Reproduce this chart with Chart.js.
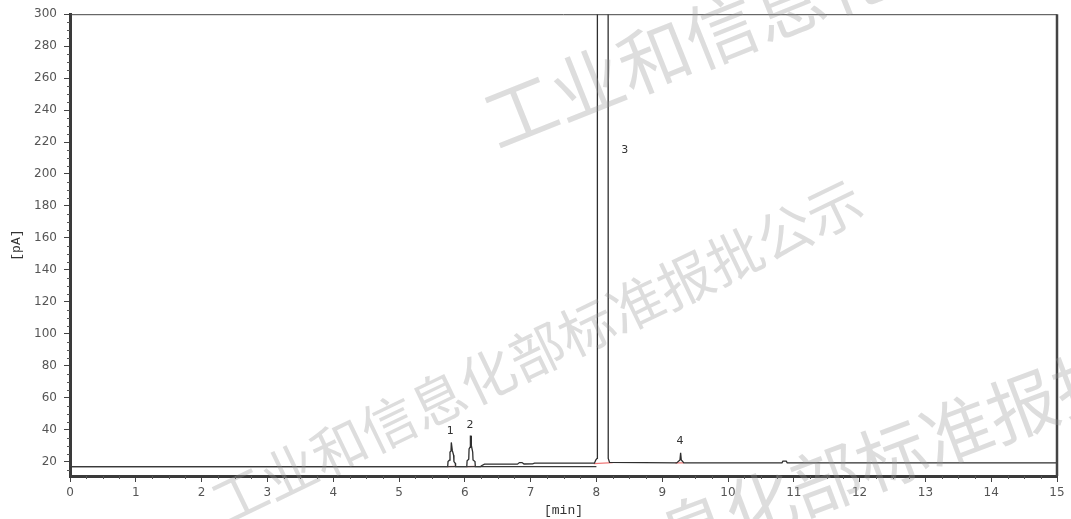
<!DOCTYPE html>
<html>
<head>
<meta charset="utf-8">
<script src="https://cdn.jsdelivr.net/npm/chart.js@4/dist/chart.umd.min.js"></script>
<style>
  html, body { margin: 0; padding: 0; background: #fff; }
  #wrap { width: 1071px; height: 519px; position: relative; }
</style>
</head>
<body>
<div id="wrap"><canvas id="gcChart"></canvas></div>
<script>
// retention time (min) and detector signal (pA)
const retTime = [
  0, 5.74, 5.745, 5.77, 5.775, 5.79, 5.795, 5.805, 5.81, 5.83, 5.835, 5.855, 5.86,
  6.03, 6.035, 6.06, 6.065, 6.08, 6.085, 6.095, 6.10, 6.12, 6.125, 6.155, 6.16,
  6.24, 6.26, 6.30, 6.80, 6.83, 6.87, 6.90, 7.03, 7.06,
  7.97, 7.99, 8.01, 8.015, 8.175, 8.18, 8.20,
  9.22, 9.27, 9.28, 9.29, 9.33,
  10.82, 10.835, 10.885, 10.90, 15
];
const signalPA = [
  16.9, 16.9, 20, 21, 26, 26.5, 32, 32, 27, 24, 20, 19, 16.9,
  16.9, 20.5, 21.5, 28, 29, 36, 36, 30, 26, 21, 20, 16.9,
  16.9, 17.6, 18.4, 18.4, 19.4, 19.4, 18.5, 18.6, 19.0,
  19.0, 21, 22, 900, 900, 22, 19.5,
  19.2, 21, 25.5, 21, 19.2,
  19.2, 20.3, 20.3, 19.2, 19.2
];

// old baseline trace that stays flat until the main peak
const refTime = [0, 8.0];
const refPA = [16.9, 16.9];

// integration baselines (drawn in red under each peak)
const intStartT = [5.74, 6.03, 7.96, 9.20];
const intStartV = [16.9, 16.9, 18.8, 19.2];
const intEndT = [5.86, 6.16, 8.25, 9.33];
const intEndV = [17.0, 17.0, 19.4, 19.2];

// peak numbers
const peakNames = ['1', '2', '3', '4'];
const peakLabelT = [5.78, 6.08, 8.43, 9.27];
const peakLabelV = [39, 43, 215, 33];

// axes
const xTicks = [0, 1, 2, 3, 4, 5, 6, 7, 8, 9, 10, 11, 12, 13, 14, 15];
const yTicks = [20, 40, 60, 80, 100, 120, 140, 160, 180, 200, 220, 240, 260, 280, 300];

const watermarkText = '工业和信息化部标准报批公示';

const toPts = (xs, ys) => xs.map((x, i) => ({ x: x, y: ys[i] }));

const datasets = [
  {
    data: toPts(refTime, refPA),
    borderColor: '#3a3a3a', borderWidth: 1.2, pointRadius: 0, tension: 0
  },
  {
    data: toPts(retTime, signalPA),
    borderColor: '#2e2e2e', borderWidth: 1.3, pointRadius: 0, tension: 0
  }
];
intStartT.forEach((t, i) => {
  datasets.push({
    data: [{ x: t, y: intStartV[i] }, { x: intEndT[i], y: intEndV[i] }],
    borderColor: '#f07878', borderWidth: 1.2, pointRadius: 0
  });
});

// minor ticks, top/right frame, peak numbers and watermark
const decorPlugin = {
  id: 'decor',
  afterDraw(chart) {
    const ctx = chart.ctx;
    const area = chart.chartArea;
    const xs = chart.scales.x;
    const ys = chart.scales.y;
    ctx.save();

    // frame on top and right
    ctx.strokeStyle = '#444';
    ctx.lineWidth = 1;
    ctx.beginPath();
    ctx.moveTo(area.left, area.top + 0.5);
    ctx.lineTo(area.right, area.top + 0.5);
    ctx.stroke();
    ctx.lineWidth = 2.5;
    ctx.beginPath();
    ctx.moveTo(area.right, area.top);
    ctx.lineTo(area.right, area.bottom);
    ctx.stroke();

    // minor ticks
    ctx.lineWidth = 1;
    ctx.strokeStyle = '#555';
    ctx.beginPath();
    for (let v = 15; v < 300; v += 5) {
      if (v % 20 === 0) continue;
      const py = Math.round(ys.getPixelForValue(v)) + 0.5;
      ctx.moveTo(area.left - 3, py);
      ctx.lineTo(area.left, py);
    }
    for (let t = 0.25; t < 15; t += 0.25) {
      if (Math.abs(t - Math.round(t)) < 1e-6) continue;
      const px = Math.round(xs.getPixelForValue(t)) + 0.5;
      ctx.moveTo(px, area.bottom);
      ctx.lineTo(px, area.bottom + 3);
    }
    ctx.stroke();

    // peak numbers
    ctx.fillStyle = '#333';
    ctx.font = '11px "DejaVu Sans"';
    ctx.textAlign = 'center';
    ctx.textBaseline = 'middle';
    peakNames.forEach((n, i) => {
      ctx.fillText(n, xs.getPixelForValue(peakLabelT[i]), ys.getPixelForValue(peakLabelV[i]));
    });

    // watermark
    ctx.fillStyle = 'rgba(150,150,150,0.32)';
    ctx.textAlign = 'left';
    ctx.textBaseline = 'middle';
    const marks = [
      { x: 487, y: 124, size: 72, rot: -0.38 },
      { x: 215, y: 507, size: 55, rot: -0.45 },
      { x: 400, y: 640, size: 70, rot: -0.36 }
    ];
    marks.forEach(m => {
      ctx.save();
      ctx.translate(m.x, m.y);
      ctx.rotate(m.rot);
      ctx.font = m.size + 'px "Noto Sans CJK SC"';
      ctx.fillText(watermarkText, 0, 0);
      ctx.restore();
    });
    ctx.restore();
  }
};

const tickFont = { family: 'DejaVu Sans', size: 12 };

new Chart(document.getElementById('gcChart'), {
  type: 'line',
  data: { datasets: datasets },
  options: {
    responsive: true,
    maintainAspectRatio: false,
    animation: false,
    layout: { padding: { top: 14, right: 14, left: 0, bottom: 0 } },
    plugins: { legend: { display: false }, tooltip: { enabled: false } },
    scales: {
      x: {
        type: 'linear', min: 0, max: 15,
        afterBuildTicks: s => { s.ticks = xTicks.map(v => ({ value: v })); },
        afterFit: s => { s.height = 43; },
        ticks: { color: '#555', font: tickFont, padding: 4, maxRotation: 0, autoSkip: false },
        grid: { drawOnChartArea: false, tickLength: 6, color: '#444' },
        border: { color: '#3a3a3a', width: 3 },
        title: { display: true, text: '[min]', color: '#333',
          font: { family: 'Liberation Mono', size: 13 }, padding: { top: 0, bottom: 1 } }
      },
      y: {
        type: 'linear', min: 11, max: 300,
        afterBuildTicks: s => { s.ticks = yTicks.map(v => ({ value: v })); },
        afterFit: s => { s.width = 70; },
        ticks: { color: '#555', font: tickFont, padding: 7, autoSkip: false },
        grid: { drawOnChartArea: false, tickLength: 6, color: '#444' },
        border: { color: '#3a3a3a', width: 3 },
        title: { display: true, text: '[pA]', color: '#333',
          font: { family: 'Liberation Mono', size: 13 }, padding: { top: 9, bottom: 0 } }
      }
    }
  },
  plugins: [decorPlugin]
});
</script>
</body>
</html>
